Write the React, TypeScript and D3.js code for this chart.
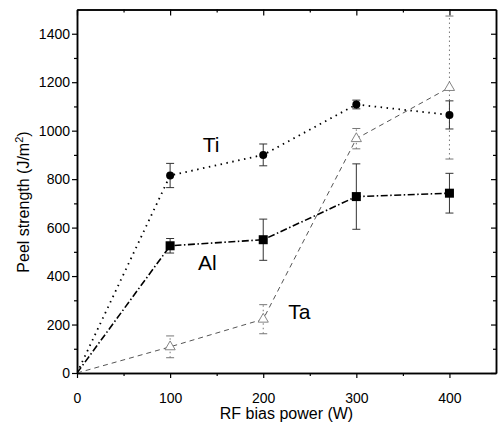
import React, { useEffect, useRef } from 'react';
import * as d3 from 'd3';

const power = [0, 100, 200, 300, 400];
const tiValues = [0, 815, 900, 1108, 1065];
const tiErrors = [0, 50, 45, 18, 58];
const alValues = [0, 525, 550, 728, 742];
const alErrors = [0, 30, 85, 135, 82];
const taValues = [0, 108, 222, 967, 1178];
const taErrors = [0, 45, 60, 42, 295];
const xTicks = [0, 100, 200, 300, 400];
const yTicks = [0, 200, 400, 600, 800, 1000, 1200, 1400];

function PeelChart() {
  const svgRef = useRef(null);

  useEffect(() => {
    const width = 499;
    const height = 427;
    const font = "'Liberation Sans', Arial, sans-serif";

    const svg = d3.select(svgRef.current)
      .attr('width', width)
      .attr('height', height);
    svg.selectAll('*').remove();

    const x = d3.scaleLinear().domain([0, 450]).range([77, 496]);
    const y = d3.scaleLinear().domain([0, 1500]).range([373, 9.5]);

    svg.append('defs').append('clipPath').attr('id', 'plotclip')
      .append('rect')
      .attr('x', x(0)).attr('y', y(1500))
      .attr('width', x(450) - x(0)).attr('height', y(0) - y(1500));

    const styleAxis = (g, showLabels) => {
      g.attr('font-family', font).attr('font-size', 14);
      g.select('.domain').attr('stroke', '#000').attr('stroke-width', 1.5);
      g.selectAll('.tick line').attr('stroke', '#000').attr('stroke-width', 1.2);
      if (!showLabels) g.selectAll('.tick text').remove();
      else g.selectAll('.tick text').attr('fill', '#000');
    };

    const xMinor = d3.range(50, 450, 100);
    const yMinor = d3.range(100, 1500, 200);
    const fmt = d3.format('d');

    // bottom axis
    svg.append('g').attr('transform', `translate(0,${y(0)})`)
      .call(d3.axisBottom(x).tickValues(xTicks).tickFormat(fmt).tickSize(5).tickSizeOuter(0).tickPadding(15))
      .call(g => styleAxis(g, true));
    svg.append('g').attr('transform', `translate(0,${y(0)})`)
      .call(d3.axisBottom(x).tickValues(xMinor).tickSize(3).tickSizeOuter(0))
      .call(g => styleAxis(g, false));

    // top axis (inward ticks)
    svg.append('g').attr('transform', `translate(0,${y(1500)})`)
      .call(d3.axisTop(x).tickValues(xTicks).tickSize(-6).tickSizeOuter(0))
      .call(g => styleAxis(g, false));
    svg.append('g').attr('transform', `translate(0,${y(1500)})`)
      .call(d3.axisTop(x).tickValues(xMinor).tickSize(-3).tickSizeOuter(0))
      .call(g => styleAxis(g, false));

    // left axis
    svg.append('g').attr('transform', `translate(${x(0)},0)`)
      .call(d3.axisLeft(y).tickValues(yTicks).tickFormat(fmt).tickSize(5).tickSizeOuter(0).tickPadding(2))
      .call(g => styleAxis(g, true));
    svg.append('g').attr('transform', `translate(${x(0)},0)`)
      .call(d3.axisLeft(y).tickValues(yMinor).tickSize(3).tickSizeOuter(0))
      .call(g => styleAxis(g, false));

    // right axis (inward ticks)
    svg.append('g').attr('transform', `translate(${x(450)},0)`)
      .call(d3.axisRight(y).tickValues(yTicks).tickSize(-5).tickSizeOuter(0))
      .call(g => styleAxis(g, false));
    svg.append('g').attr('transform', `translate(${x(450)},0)`)
      .call(d3.axisRight(y).tickValues(yMinor).tickSize(-3).tickSizeOuter(0))
      .call(g => styleAxis(g, false));

    const plot = svg.append('g').attr('clip-path', 'url(#plotclip)');
    const line = d3.line().x(d => x(d[0])).y(d => y(d[1]));

    const series = [
      { name: 'Ta', values: taValues, errors: taErrors, dash: '5,4', color: '#555', width: 1, errDash: '1.5,3' },
      { name: 'Al', values: alValues, errors: alErrors, dash: '7,2.5,1.5,2.5', color: '#000', width: 1.6, errDash: null },
      { name: 'Ti', values: tiValues, errors: tiErrors, dash: '1.5,4.5', color: '#000', width: 1.8, errDash: null },
    ];

    series.forEach(s => {
      const pts = power.map((p, i) => [p, s.values[i]]);
      plot.append('path')
        .attr('d', line(pts))
        .attr('fill', 'none')
        .attr('stroke', s.color)
        .attr('stroke-width', s.width)
        .attr('stroke-dasharray', s.dash);

      const eb = plot.append('g').attr('stroke', s.name === 'Ta' ? '#777' : '#333').attr('stroke-width', 1);
      power.forEach((p, i) => {
        if (i === 0) return;
        const lo = s.values[i] - s.errors[i];
        const hi = s.values[i] + s.errors[i];
        eb.append('line')
          .attr('x1', x(p)).attr('x2', x(p))
          .attr('y1', y(lo)).attr('y2', y(hi))
          .attr('stroke-dasharray', s.errDash);
        [lo, hi].forEach(v => {
          eb.append('line')
            .attr('x1', x(p) - 4).attr('x2', x(p) + 4)
            .attr('y1', y(v)).attr('y2', y(v));
        });
      });
    });

    const markerPts = (vals) => power.slice(1).map((p, i) => [p, vals[i + 1]]);

    plot.selectAll('.ti').data(markerPts(tiValues)).enter().append('circle')
      .attr('cx', d => x(d[0])).attr('cy', d => y(d[1])).attr('r', 4)
      .attr('fill', '#000');

    plot.selectAll('.al').data(markerPts(alValues)).enter().append('rect')
      .attr('x', d => x(d[0]) - 4.5).attr('y', d => y(d[1]) - 4.5)
      .attr('width', 9).attr('height', 9)
      .attr('fill', '#000');

    const tri = d3.symbol().type(d3.symbolTriangle).size(45);
    plot.selectAll('.ta').data(markerPts(taValues)).enter().append('path')
      .attr('d', tri)
      .attr('transform', d => `translate(${x(d[0])},${y(d[1])})`)
      .attr('fill', '#fff').attr('stroke', '#777').attr('stroke-width', 0.9);

    // series labels
    const labels = [
      { text: 'Ti', px: 135, py: 910 },
      { text: 'Al', px: 130, py: 425 },
      { text: 'Ta', px: 227, py: 222 },
    ];
    svg.selectAll('.lbl').data(labels).enter().append('text')
      .attr('x', d => x(d.px)).attr('y', d => y(d.py))
      .attr('font-family', font).attr('font-size', 21)
      .attr('fill', '#000')
      .text(d => d.text);

    // axis titles
    svg.append('text')
      .attr('x', (x(0) + x(450)) / 2).attr('y', 419)
      .attr('text-anchor', 'middle')
      .attr('font-family', font).attr('font-size', 16)
      .text('RF bias power (W)');

    const yt = svg.append('text')
      .attr('transform', 'translate(29,202) rotate(-90)')
      .attr('text-anchor', 'middle')
      .attr('font-family', font).attr('font-size', 16);
    yt.append('tspan').text('Peel strength (J/m');
    yt.append('tspan').attr('dy', -6).attr('font-size', 11).text('2');
    yt.append('tspan').attr('dy', 6).text(')');
  }, []);

  return <svg ref={svgRef} style={{ position: 'absolute', left: 0, top: 0 }}></svg>;
}

export default function App() {
  return <PeelChart />;
}
